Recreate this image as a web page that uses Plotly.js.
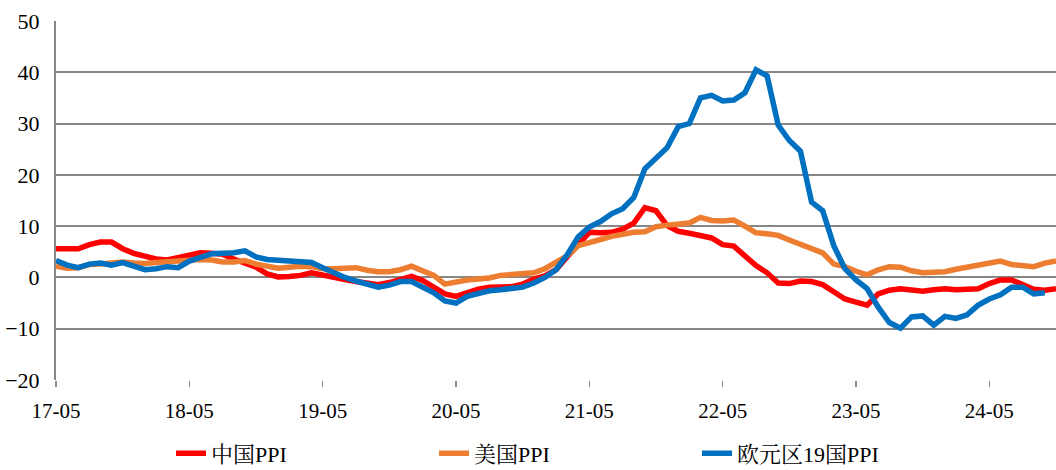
<!DOCTYPE html>
<html>
<head>
<meta charset="utf-8">
<script src="https://cdn.plot.ly/plotly-3.0.1.min.js"></script>
<style>html,body{margin:0;padding:0;background:#fff}#chart{width:1056px;height:470px}</style>
</head>
<body>
<div id="chart"></div>
<script>
// Monthly categories 2017-05 .. 2024-11
const months = [];
for (let y = 17; y <= 24; y++) {
  for (let m = 1; m <= 12; m++) {
    if ((y === 17 && m < 5) || (y === 24 && m > 11)) continue;
    months.push(y + '-' + String(m).padStart(2, '0'));
  }
}
const tickLabels = ['17-05','18-05','19-05','20-05','21-05','22-05','23-05','24-05'];

const chinaPPI = [
  5.6, 5.6, 5.6, 6.4, 6.9, 6.9, 5.6, 4.7,
  4.1, 3.6, 3.4, 3.9, 4.5, 4.8, 4.7, 4.5, 3.6, 2.8, 2.0, 0.7,
  0.1, 0.2, 0.4, 0.9, 0.4, -0.1, -0.4, -0.8, -1.1, -1.4, -1.0, -0.3,
  0.2, -0.6, -1.8, -3.2, -3.7, -2.9, -2.3, -1.9, -1.8, -1.8, -1.3, -0.3,
  0.3, 1.5, 4.0, 6.6, 8.8, 8.7, 8.8, 9.4, 10.6, 13.6, 13.0, 10.1,
  9.0, 8.6, 8.1, 7.7, 6.4, 6.1, 4.2, 2.3, 0.9, -1.1, -1.2, -0.7,
  -0.8, -1.4, -2.8, -4.2, -4.8, -5.4, -3.2, -2.5, -2.2, -2.4, -2.7, -2.4,
  -2.2, -2.4, -2.4, -2.2, -1.2, -0.5, -0.5, -1.3, -2.3, -2.5, -2.2
];
const usPPI = [
  2.2, 1.8, 1.9, 2.5, 2.6, 2.9, 3.0, 2.8,
  2.7, 2.9, 3.1, 3.1, 3.3, 3.5, 3.4, 3.0, 3.0, 3.3, 2.6, 2.2,
  1.8, 2.0, 2.2, 2.1, 1.7, 1.7, 1.8, 1.9, 1.4, 1.1, 1.1, 1.5,
  2.2, 1.3, 0.4, -1.3, -0.8, -0.5, -0.3, -0.1, 0.4, 0.6, 0.8, 0.9,
  1.7, 2.9, 4.2, 6.2, 6.9, 7.4, 8.0, 8.4, 8.8, 8.9, 9.9, 10.2,
  10.4, 10.6, 11.7, 11.1, 11.0, 11.2, 10.0, 8.7, 8.5, 8.2, 7.3, 6.4,
  5.6, 4.8, 2.6, 2.1, 1.2, 0.5, 1.5, 2.1, 2.0, 1.3, 0.9, 1.0,
  1.1, 1.6, 2.0, 2.4, 2.7, 3.2, 2.5, 2.2, 2.1, 2.8, 3.2
];
const euroPPI = [
  3.3, 2.4, 1.9, 2.6, 2.8, 2.4, 2.9, 2.2,
  1.5, 1.7, 2.1, 1.9, 3.2, 3.9, 4.6, 4.7, 4.8, 5.2, 4.0, 3.5,
  3.3, 3.2, 3.0, 2.9, 1.9, 0.9, 0.0, -0.7, -1.2, -1.9, -1.5, -0.8,
  -0.8, -1.8, -3.0, -4.6, -5.0, -3.7, -3.1, -2.6, -2.4, -2.2, -1.9, -1.1,
  0.0, 1.5, 4.4, 7.9, 9.8, 10.9, 12.4, 13.4, 15.6, 21.2, 23.2, 25.3,
  29.4, 30.0, 35.0, 35.5, 34.4, 34.6, 36.0, 40.5, 39.3, 29.7, 26.7, 24.6,
  14.7, 13.0, 6.2, 1.7, -0.5, -2.2, -5.8, -8.8, -9.9, -7.7, -7.5, -9.3,
  -7.6, -8.0, -7.3, -5.4, -4.2, -3.4, -1.9, -1.9, -3.2, -3.0
];

const seriesNames = ['中国PPI', '美国PPI', '欧元区19国PPI'];
const seriesColors = ['#FF0000', '#ED7D31', '#0070C0'];
const seriesData = [chinaPPI, usPPI, euroPPI];

const fontFam = '"Liberation Serif", "Times New Roman", "Noto Serif CJK SC", "Noto Sans CJK SC", serif';

const traces = seriesData.map((vals, k) => ({
  type: 'scatter',
  mode: 'lines',
  name: seriesNames[k],
  x: months.slice(0, vals.length),
  y: vals,
  line: {color: seriesColors[k], width: 5.5},
  hoverinfo: 'x+y+name'
}));

const layout = {
  width: 1056,
  height: 470,
  margin: {l: 56, r: 0, t: 21, b: 90},
  paper_bgcolor: '#ffffff',
  plot_bgcolor: '#ffffff',
  font: {family: fontFam, size: 21, color: '#000'},
  showlegend: true,
  legend: {
    orientation: 'h',
    x: 0.115, xanchor: 'left',
    yref: 'container',
    y: 0.035, yanchor: 'middle',
    entrywidth: 218,
    entrywidthmode: 'pixels',
    font: {family: fontFam, size: 22, color: '#000'},
    bgcolor: 'rgba(0,0,0,0)'
  },
  xaxis: {
    type: 'category',
    range: [0, 90],
    tickmode: 'array',
    tickvals: tickLabels,
    ticktext: tickLabels,
    ticks: 'outside',
    ticklen: 6,
    tickwidth: 1.5,
    tickcolor: '#8c8c8c',
    ticklabelstandoff: 6,
    showgrid: false,
    showline: false,
    zeroline: false,
    tickfont: {family: fontFam, size: 21, color: '#000'}
  },
  yaxis: {
    range: [-20, 50],
    dtick: 10,
    tick0: 0,
    showgrid: true,
    gridcolor: '#868686',
    gridwidth: 2,
    zeroline: false,
    showline: true,
    linecolor: '#868686',
    linewidth: 2,
    ticks: '',
    ticklabelstandoff: 10,
    tickfont: {family: fontFam, size: 22, color: '#000'}
  }
};

Plotly.newPlot('chart', traces, layout, {displayModeBar: false, staticPlot: true});
</script>
</body>
</html>
